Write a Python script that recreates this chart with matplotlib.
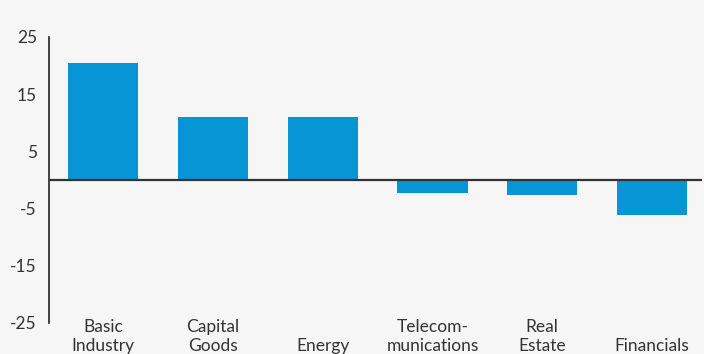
import matplotlib.pyplot as plt

plt.rcParams['font.family'] = ['Lato', 'DejaVu Sans']

sectors = ['Basic\nIndustry', 'Capital\nGoods', '\nEnergy', 'Telecom-\nmunications', 'Real\nEstate', '\nFinancials']
changes = [20.5, 11.0, 11.0, -2.2, -2.7, -6.2]
y_ticks = [25, 15, 5, -5, -15, -25]

bg = '#f6f6f6'
bar_color = '#0795d6'
text_color = '#333333'

fig = plt.figure(figsize=(7.04, 3.54), dpi=100, facecolor=bg)
ax = fig.add_axes([0.0703, 0.0876, 0.9267, 0.808], facecolor=bg)

x = list(range(len(sectors)))
ax.bar(x, changes, width=0.64, color=bar_color, zorder=2)
ax.axhline(0, color=text_color, linewidth=1.6, zorder=3)

ax.set_xlim(-0.49, 5.455)
ax.set_ylim(-25, 25)
ax.set_yticks(y_ticks)
ax.set_yticklabels([str(v) for v in y_ticks], fontsize=12.5, color=text_color)
ax.tick_params(axis='y', length=0, pad=9)
ax.set_xticks([])

for side in ['top', 'right', 'bottom']:
    ax.spines[side].set_visible(False)
ax.spines['left'].set_color(text_color)
ax.spines['left'].set_linewidth(1.3)

# sector names sit inside the bottom of the axes
for i, name in zip(x, sectors):
    ax.text(i, -24.3, name, ha='center', va='top', fontsize=12.5,
            color=text_color, linespacing=1.25, clip_on=False)

fig.savefig('out.png', dpi=100, facecolor=bg)
